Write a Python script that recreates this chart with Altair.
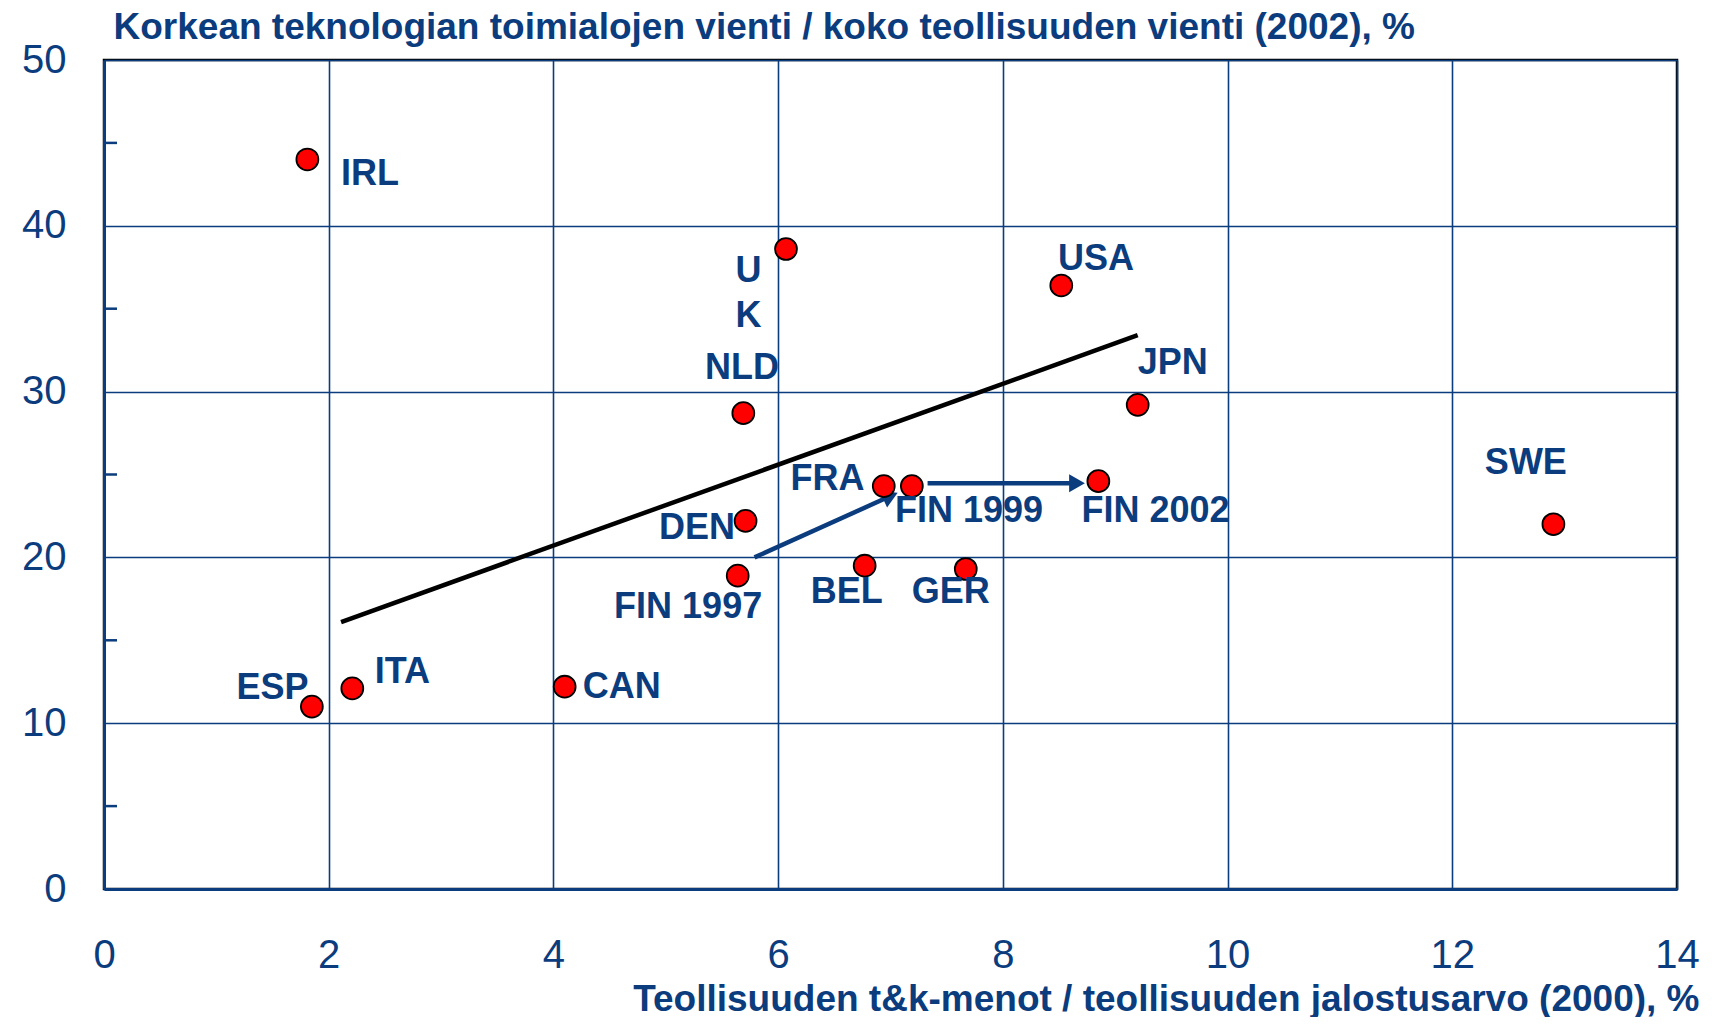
import altair as alt
import pandas as pd

# ---- data ----
countries = ["IRL", "UK", "USA", "NLD", "JPN", "FRA", "FIN 1999", "FIN 2002",
             "DEN", "SWE", "FIN 1997", "BEL", "GER", "ESP", "ITA", "CAN"]
rd_share = [1.81, 6.07, 8.52, 5.69, 9.20, 6.94, 7.19, 8.85,
            5.71, 12.90, 5.64, 6.77, 7.67, 1.85, 2.21, 4.10]
hitech_share = [44.0, 38.6, 36.4, 28.7, 29.2, 24.3, 24.3, 24.6,
                22.2, 22.0, 18.9, 19.5, 19.3, 11.0, 12.1, 12.2]

# label anchors (left edge, vertical centre of first line) in data units
label_text = ["IRL", "U\nK", "USA", "NLD", "JPN", "FRA", "FIN 1999", "FIN 2002",
              "DEN", "SWE", "FIN 1997", "BEL", "GER", "ESP", "ITA", "CAN"]
label_x = [2.11, 5.62, 8.49, 5.35, 9.20, 6.11, 7.04, 8.70,
           4.94, 12.29, 4.54, 6.29, 7.19, 1.18, 2.41, 4.26]
label_y = [43.1, 37.3, 38.0, 31.4, 31.7, 24.7, 22.8, 22.8,
           21.8, 25.7, 17.0, 17.9, 17.9, 12.1, 13.1, 12.2]

# trend line end points
trend_x = [2.11, 9.20]
trend_y = [16.1, 33.4]

# Finland's path arrows
arrow_x = [5.79, 7.33]
arrow_y = [20.0, 24.47]
arrow_x2 = [7.00, 8.66]
arrow_y2 = [23.7, 24.47]
arrow_angle = [335.7, 0]

minor_ticks = [5, 15, 25, 35, 45]

x_ticks = [0, 2, 4, 6, 8, 10, 12, 14]
y_ticks = [0, 10, 20, 30, 40, 50]

NAVY = "#0B3C7D"
FONT = "Liberation Sans"

xs = alt.Scale(domain=[0, 14], nice=False, zero=True)
ys = alt.Scale(domain=[0, 50], nice=False, zero=True)

x_axis = alt.Axis(
    values=x_ticks, grid=True, gridColor=NAVY, gridWidth=1.6, ticks=False,
    domainColor=NAVY, domainWidth=3, labelFont=FONT, labelFontSize=40,
    labelColor=NAVY, labelPadding=46, labelFlush=False,
    title="Teollisuuden t&k-menot / teollisuuden jalostusarvo (2000), %",
    titleFont=FONT, titleFontSize=37, titleFontWeight="bold", titleColor=NAVY,
    titleAnchor="end", titleAlign="right", titleBaseline="middle",
    titleX=1595, titleY=110,
)
y_axis = alt.Axis(
    values=y_ticks, grid=True, gridColor=NAVY, gridWidth=1.6, ticks=False,
    domainColor=NAVY, domainWidth=3, labelFont=FONT, labelFontSize=40,
    labelColor=NAVY, labelPadding=38, labelFlush=False,
    title="Korkean teknologian toimialojen vienti / koko teollisuuden vienti (2002), %",
    titleFont=FONT, titleFontSize=37, titleFontWeight="bold", titleColor=NAVY,
    titleAngle=0, titleAlign="left", titleBaseline="top",
    titleX=9, titleY=-51,
)

X = lambda f="x": alt.X(f"{f}:Q", scale=xs, axis=x_axis)
Y = lambda f="y": alt.Y(f"{f}:Q", scale=ys, axis=y_axis)

pts = pd.DataFrame({"name": countries, "x": rd_share, "y": hitech_share})
labels = pd.DataFrame({"t": label_text, "x": label_x, "y": label_y})
trend = pd.DataFrame({"x": trend_x, "y": trend_y})
arrows = pd.DataFrame({"x": arrow_x, "y": arrow_y, "x2": arrow_x2, "y2": arrow_y2,
                       "a": arrow_angle})
minor = pd.DataFrame({"y": minor_ticks})

minor_layer = alt.Chart(minor).mark_rule(color=NAVY, strokeWidth=2.5).encode(
    y=Y(), x=alt.value(0), x2=alt.value(13)
)

trend_layer = alt.Chart(trend).mark_line(color="black", strokeWidth=4.5).encode(
    x=X(), y=Y()
)

arrow_lines = alt.Chart(arrows).mark_rule(color=NAVY, strokeWidth=4.5).encode(
    x=X(), y=Y(), x2="x2:Q", y2="y2:Q"
)
arrow_heads = alt.Chart(arrows).mark_point(
    shape="triangle-right", filled=True, color=NAVY, size=330, opacity=1
).encode(
    x=X("x2"), y=Y("y2"), angle=alt.Angle("a:Q", scale=None)
)

point_layer = alt.Chart(pts).mark_circle(
    color="#FF0000", stroke="black", strokeWidth=1.8, size=480, opacity=1
).encode(x=X(), y=Y())

label_layer = alt.Chart(labels).mark_text(
    align="left", baseline="middle", font=FONT, fontSize=36, fontWeight="bold",
    color=NAVY, lineBreak="\n", lineHeight=45
).encode(x=X(), y=Y(), text="t:N")

chart = alt.layer(
    minor_layer, trend_layer, arrow_lines, arrow_heads, point_layer, label_layer
).properties(
    width=1573, height=829,
    autosize=alt.AutoSizeParams(type="none"),
    padding={"left": 96, "top": 52, "right": 28, "bottom": 128},
    background="white",
).configure_view(stroke="black", strokeWidth=2.5)

chart.save("out.html", embed_options={"renderer": "svg", "actions": False})
